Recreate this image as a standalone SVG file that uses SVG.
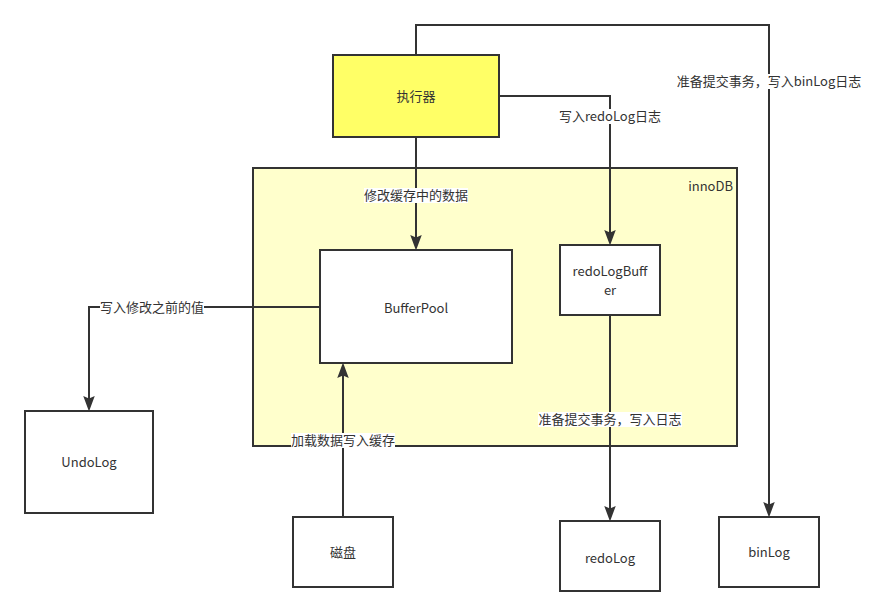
<svg xmlns="http://www.w3.org/2000/svg" width="877" height="616" viewBox="0 0 877 616">
<defs>
<style>
text{font-family:"Noto Sans CJK SC","Noto Sans",sans-serif;font-size:13px;fill:#333;text-anchor:middle}
.box{fill:#fff;stroke:#333;stroke-width:2}
.edge{fill:none;stroke:#333;stroke-width:2}
.lbg{fill:#fff}
</style>
<marker id="arr" markerUnits="userSpaceOnUse" markerWidth="17" markerHeight="12" refX="10" refY="5.75" orient="auto">
<path d="M0,0 L15.5,5.75 L0,11.5 L2.5,5.75 Z" fill="#333"/>
</marker>
</defs>
<rect width="877" height="616" fill="#fff"/>

<g id="innoDB">
<rect x="253" y="168" width="484" height="278" fill="#ffffcc" stroke="#333" stroke-width="2"/>
<text x="733" y="191" style="text-anchor:end">innoDB</text>
</g>

<g id="executor">
<rect x="333" y="55" width="166" height="82" fill="#ffff66" stroke="#333" stroke-width="2"/>
<text x="416" y="101">执行器</text>
</g>

<g id="bufferPool">
<rect class="box" x="320" y="250" width="192" height="113"/>
<text x="416" y="313">BufferPool</text>
</g>

<g id="redoLogBuffer">
<rect class="box" x="560" y="245" width="100" height="70"/>
<text x="610" y="276"><tspan x="610" y="276">redoLogBuff</tspan><tspan x="610" y="295">er</tspan></text>
</g>

<g id="undoLog">
<rect class="box" x="25" y="411" width="128" height="102"/>
<text x="89" y="467">UndoLog</text>
</g>

<g id="disk">
<rect class="box" x="293" y="517" width="100" height="70"/>
<text x="343" y="557">磁盘</text>
</g>

<g id="redoLog">
<rect class="box" x="560" y="521" width="100" height="70"/>
<text x="610" y="563">redoLog</text>
</g>

<g id="binLog">
<rect class="box" x="719" y="517" width="100" height="70"/>
<text x="769" y="557">binLog</text>
</g>

<g id="connectors">
<path class="edge" d="M416,55 V25 H769 V512" marker-end="url(#arr)"/>
<path class="edge" d="M499,96 H610 V240" marker-end="url(#arr)"/>
<path class="edge" d="M416,137 V245" marker-end="url(#arr)"/>
<path class="edge" d="M320,307 H89 V406" marker-end="url(#arr)"/>
<path class="edge" d="M343,517 V368" marker-end="url(#arr)"/>
<path class="edge" d="M610,315 V516" marker-end="url(#arr)"/>

<rect class="lbg" x="677" y="74" width="186" height="15"/>
<text x="769" y="86">准备提交事务，写入binLog日志</text>
<rect class="lbg" x="558" y="109" width="104" height="15"/>
<text x="610" y="121">写入redoLog日志</text>
<rect class="lbg" x="364" y="188" width="104" height="15"/>
<text x="416" y="200">修改缓存中的数据</text>
<rect class="lbg" x="100" y="300" width="104" height="15"/>
<text x="152" y="312">写入修改之前的值</text>
<rect class="lbg" x="291" y="433" width="104" height="15"/>
<text x="343" y="445">加载数据写入缓存</text>
<rect class="lbg" x="538" y="412" width="144" height="15"/>
<text x="610" y="424">准备提交事务，写入日志</text>
</g>
</svg>
